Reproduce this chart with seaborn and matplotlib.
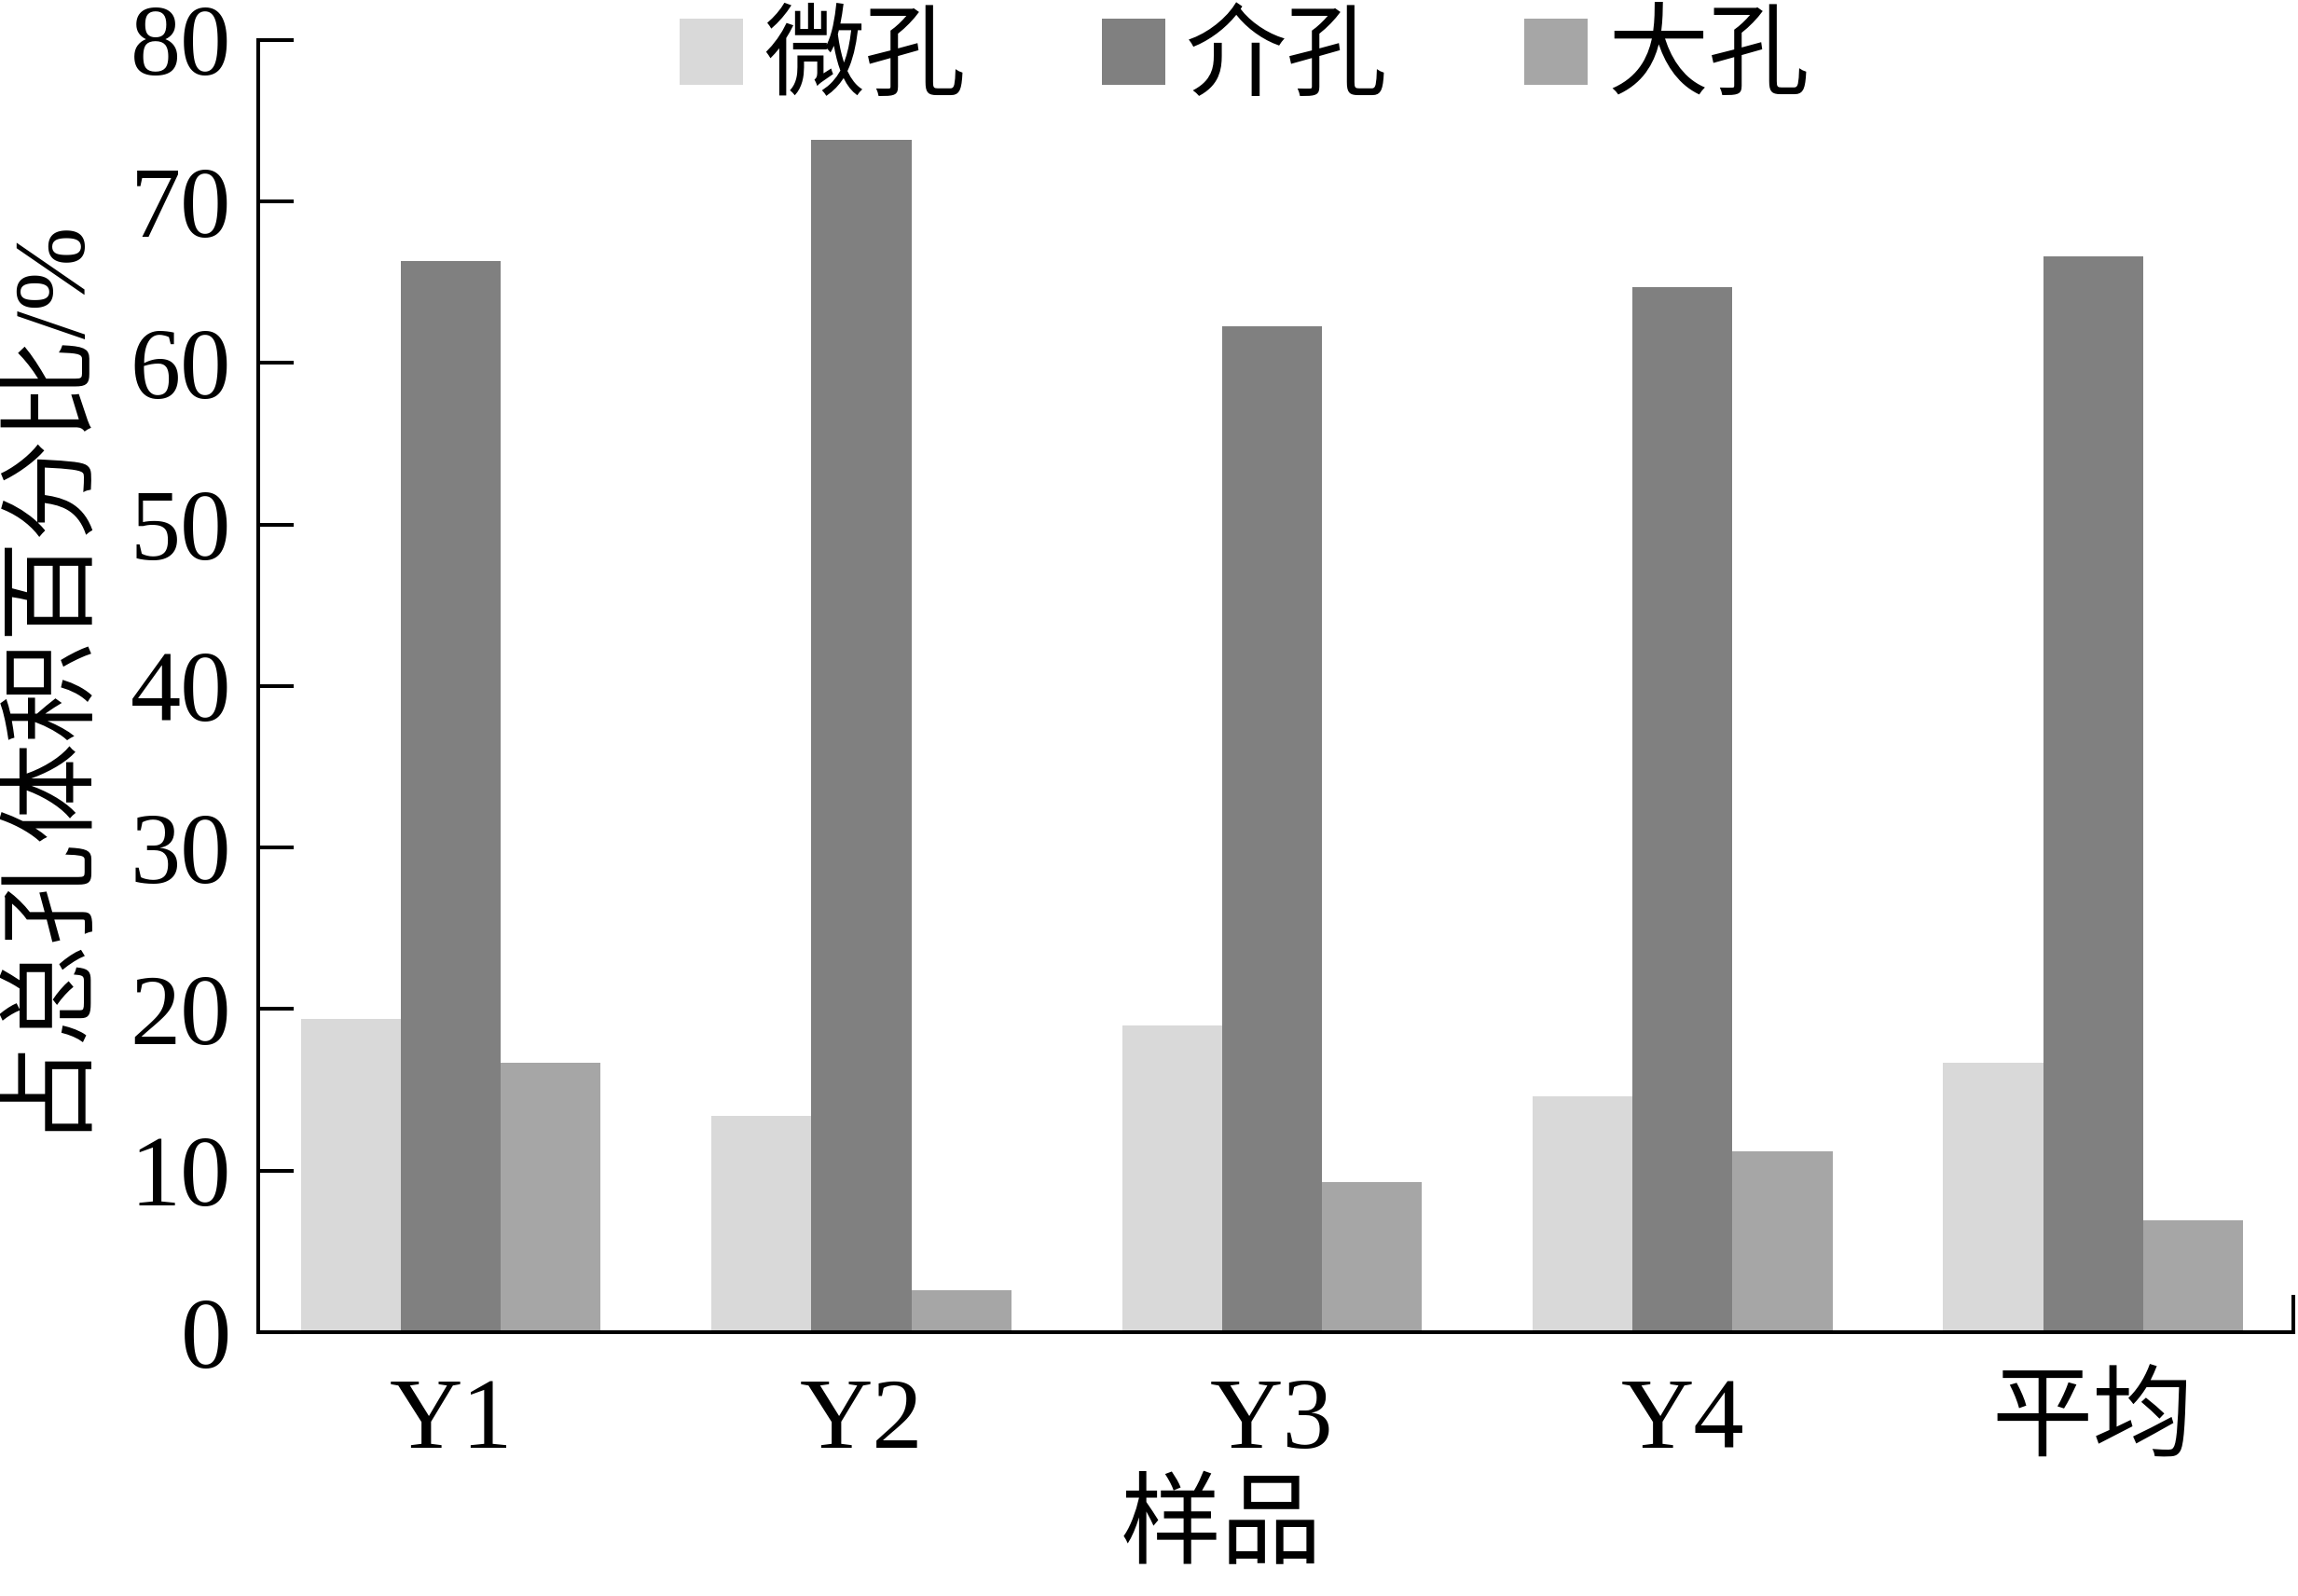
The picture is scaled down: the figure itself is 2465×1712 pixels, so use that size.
# Pore volume share of micro / meso / macro pores for each sample

import pandas as pd
import seaborn as sns
import matplotlib.pyplot as plt

# data
samples = ["Y1", "Y2", "Y3", "Y4", "平均"]
pore_types = ["微孔", "介孔", "大孔"]
micro = [19.4, 13.4, 19.0, 14.6, 16.7]
meso = [66.3, 73.8, 62.3, 64.7, 66.6]
macro = [16.7, 2.6, 9.3, 11.2, 6.9]
colors = ["#d9d9d9", "#808080", "#a6a6a6"]

sns.set_style("white")
plt.rcParams["font.family"] = ["Liberation Serif", "Noto Sans CJK SC"]
# everything in plain black like the original
for key in ["text.color", "axes.labelcolor", "xtick.color", "ytick.color",
            "axes.edgecolor"]:
    plt.rcParams[key] = "black"

# long table for seaborn
rows = []
for name, values in zip(pore_types, [micro, meso, macro]):
    for s, v in zip(samples, values):
        rows.append({"样品": s, "孔类型": name, "占比": v})
df = pd.DataFrame(rows)

fig = plt.figure(figsize=(24.65, 17.12), dpi=100)
ax = fig.add_axes([0.1124, 0.1653, 0.998 - 0.1124, 0.9749 - 0.1653])

sns.barplot(data=df, x="样品", y="占比", hue="孔类型", palette=colors,
            width=0.73, saturation=1, linewidth=0, errorbar=None, ax=ax)

ax.set_ylim(0, 80)
ax.set_xlim(-0.469, 4.488)
ax.set_yticks(range(0, 81, 10))

# axes lines: left and bottom, plus a short stub at the right end
lw = 2.9
for side in ["left", "bottom", "right"]:
    ax.spines[side].set_linewidth(lw)
    ax.spines[side].set_color("black")
ax.spines["top"].set_visible(False)
ax.spines["right"].set_bounds(0, 2.2)

ax.tick_params(axis="y", direction="in", length=27, width=lw, pad=21,
               labelsize=78, left=True, right=False, colors="black")
ax.tick_params(axis="x", length=0, pad=35, labelsize=78, colors="black")

ax.set_xlabel("样品", fontsize=78, color="black")
ax.xaxis.set_label_coords(0.473, -0.118)
ax.xaxis.label.set_va("top")
ax.set_ylabel("占总孔体积百分比/%", fontsize=78, color="black")
ax.yaxis.set_label_coords(-0.082, 0.512)

# legend across the top
leg = ax.get_legend()
handles = leg.legend_handles
labels = [t.get_text() for t in leg.texts]
leg.remove()
fig.legend(handles, labels, loc="center", bbox_to_anchor=(0.5416, 0.9614),
           ncol=3, frameon=False, fontsize=78, borderpad=0,
           handlelength=0.63, handleheight=0.63, handletextpad=0.2,
           columnspacing=1.35, labelcolor="black")

plt.savefig("out.png", dpi=100)
